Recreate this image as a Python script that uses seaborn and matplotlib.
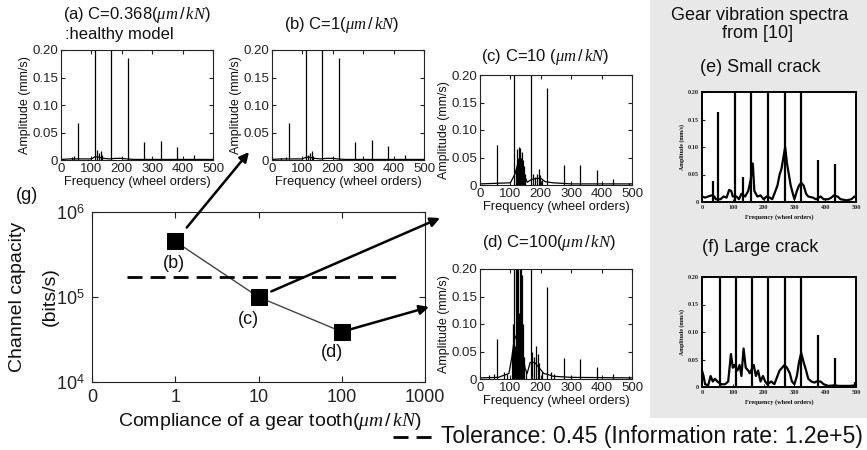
import matplotlib
matplotlib.use("Agg")
import matplotlib.pyplot as plt
import seaborn as sns
from matplotlib.lines import Line2D
from matplotlib.patches import Rectangle

# ---------------- data ----------------
# main panel (g)
compliance = [1, 10, 100]
capacity = [4.5e5, 1.0e5, 3.9e4]
point_labels = ["(b)", "(c)", "(d)"]
tol_y = 1.73e5
tol_x = [0.26, 490]
x_ticks = [0.1, 1, 10, 100, 1000]
x_tick_labels = ["0", "1", "10", "100", "1000"]
y_ticks = [1e4, 1e5, 1e6]
y_tick_labels = ["$10^{4}$", "$10^{5}$", "$10^{6}$"]

amp_ticks = [0, 0.05, 0.10, 0.15, 0.20]
amp_tick_labels = ["0", "0.05", "0.10", "0.15", "0.20"]
freq_ticks = [0, 100, 200, 300, 400, 500]
freq_tick_labels = ["0", "100", "200", "300", "400", "500"]

# (a) healthy
a_peak_f = [36, 42, 57, 112, 118, 124, 130, 134, 166, 221, 274, 329, 383, 437]
a_peak_a = [0.006, 0.008, 0.067, 0.30, 0.018, 0.012, 0.016, 0.010, 0.30, 0.185, 0.032, 0.035, 0.023, 0.010]
a_bg_f = [0, 30, 60, 100, 112, 125, 140, 160, 180, 200, 215, 240, 300, 400, 500]
a_bg_a = [0.001, 0.002, 0.002, 0.002, 0.006, 0.005, 0.003, 0.002, 0.003, 0.003, 0.002, 0.001, 0.001, 0.001, 0.001]

# (b) C=1
b_peak_f = [30, 45, 57, 112, 118, 124, 130, 134, 166, 221, 274, 329, 383, 437]
b_peak_a = [0.004, 0.005, 0.068, 0.30, 0.010, 0.012, 0.017, 0.008, 0.30, 0.185, 0.033, 0.036, 0.025, 0.010]
b_bg_f = [0, 30, 60, 100, 112, 125, 140, 160, 180, 200, 215, 240, 300, 400, 500]
b_bg_a = [0.001, 0.002, 0.002, 0.002, 0.005, 0.005, 0.003, 0.002, 0.003, 0.003, 0.002, 0.001, 0.001, 0.001, 0.001]

# (c) C=10
c_peak_f = [57, 112, 118, 121, 124, 127, 130, 133, 136, 139, 142, 145, 148, 167, 175, 180, 186, 193,
            198, 205, 221, 275, 329, 384, 437, 490]
c_peak_a = [0.073, 0.30, 0.03, 0.065, 0.05, 0.07, 0.06, 0.068, 0.05, 0.06, 0.045, 0.035, 0.02, 0.30,
            0.02, 0.015, 0.02, 0.03, 0.018, 0.01, 0.176, 0.036, 0.036, 0.027, 0.011, 0.003]
c_bg_f = [0, 50, 100, 115, 125, 135, 145, 155, 170, 185, 200, 215, 240, 300, 500]
c_bg_a = [0.002, 0.003, 0.004, 0.02, 0.04, 0.035, 0.02, 0.005, 0.01, 0.012, 0.012, 0.006, 0.004, 0.002, 0.002]

# (d) C=100
d_peak_f = [30, 45, 57, 80, 90, 104, 108, 112, 115, 118, 121, 124, 127, 130, 133, 136, 139, 142, 145,
            150, 167, 172, 178, 185, 190, 195, 205, 221, 235, 245, 275, 300, 329, 384, 437, 490]
d_peak_a = [0.008, 0.01, 0.073, 0.012, 0.01, 0.05, 0.10, 0.30, 0.06, 0.30, 0.25, 0.30, 0.12, 0.30,
            0.09, 0.22, 0.19, 0.10, 0.04, 0.015, 0.30, 0.05, 0.04, 0.06, 0.045, 0.03, 0.012, 0.168,
            0.012, 0.01, 0.038, 0.005, 0.036, 0.022, 0.009, 0.005]
d_bg_f = [0, 60, 95, 105, 112, 120, 135, 148, 155, 165, 180, 195, 210, 225, 240, 300, 500]
d_bg_a = [0.002, 0.003, 0.01, 0.04, 0.07, 0.08, 0.07, 0.02, 0.01, 0.03, 0.03, 0.02, 0.01, 0.008,
          0.005, 0.003, 0.002]

# (e) small crack
e_peak_f = [36, 52, 106, 133, 160, 214, 268, 321, 378, 431]
e_peak_a = [0.038, 0.164, 0.30, 0.045, 0.30, 0.30, 0.30, 0.30, 0.077, 0.07]
e_bg_f = [0, 10, 20, 30, 40, 45, 60, 70, 80, 88, 95, 100, 112, 120, 128, 140, 150, 158, 165, 170,
          180, 190, 200, 210, 220, 228, 235, 245, 252, 258, 264, 270, 276, 282, 288, 295, 300, 308,
          315, 322, 330, 338, 345, 360, 370, 385, 395, 410, 420, 428, 440, 450, 470, 485, 495, 500]
e_bg_a = [0.01, 0.008, 0.01, 0.012, 0.01, 0.005, 0.005, 0.01, 0.008, 0.022, 0.02, 0.01, 0.01, 0.005,
          0.015, 0.01, 0.02, 0.04, 0.07, 0.02, 0.01, 0.012, 0.005, 0.01, 0.008, 0.005, 0.015, 0.03,
          0.05, 0.06, 0.08, 0.10, 0.07, 0.05, 0.03, 0.015, 0.005, 0.02, 0.03, 0.035, 0.03, 0.015,
          0.01, 0.008, 0.005, 0.01, 0.005, 0.005, 0.008, 0.012, 0.01, 0.005, 0.003, 0.005, 0.01, 0.008]

# (f) large crack
f_peak_f = [57, 109, 162, 215, 269, 321, 378, 432, 498]
f_peak_a = [0.30, 0.30, 0.30, 0.30, 0.30, 0.30, 0.094, 0.052, 0.01]
f_bg_f = [0, 5, 10, 20, 28, 35, 42, 50, 62, 75, 85, 94, 100, 105, 115, 122, 128, 135, 142, 150, 155,
          168, 175, 182, 190, 198, 205, 212, 225, 235, 245, 252, 260, 268, 276, 285, 292, 300, 308,
          315, 322, 330, 338, 345, 355, 365, 372, 385, 395, 410, 430, 445, 480, 500]
f_bg_a = [0.03, 0.02, 0.005, 0.003, 0.02, 0.01, 0.015, 0.01, 0.005, 0.005, 0.01, 0.06, 0.035, 0.04,
          0.03, 0.04, 0.02, 0.07, 0.035, 0.03, 0.025, 0.04, 0.02, 0.03, 0.01, 0.02, 0.01, 0.005, 0.01,
          0.005, 0.02, 0.03, 0.035, 0.04, 0.035, 0.025, 0.01, 0.005, 0.02, 0.045, 0.062, 0.045, 0.03,
          0.015, 0.01, 0.008, 0.01, 0.01, 0.005, 0.002, 0.003, 0.002, 0.002, 0.003]

# ---------------- style ----------------
sns.set_style("ticks")
plt.rcParams.update({
    "font.family": ["Liberation Sans", "DejaVu Sans"],
    "mathtext.fontset": "custom",
    "mathtext.rm": "Liberation Sans",
    "mathtext.it": "Liberation Serif:italic",
    "mathtext.bf": "Liberation Sans:bold",
    "xtick.direction": "in",
    "ytick.direction": "in",
    "axes.edgecolor": "#222222",
    "axes.linewidth": 0.8,
    "xtick.color": "#222222",
    "ytick.color": "#222222",
    "text.color": "#111111",
    "axes.labelcolor": "#111111",
})

W, H = 867, 450
fig = plt.figure(figsize=(W / 100, H / 100), dpi=100)
fig.patch.set_facecolor("white")


def box(x0, y0, x1, y1):
    return [x0 / W, 1 - y1 / H, (x1 - x0) / W, (y1 - y0) / H]


def ftext(x, y, s, **kw):
    fig.text(x / W, 1 - y / H, s, **kw)


# gray scanned background for (e),(f)
fig.patches.append(Rectangle((650 / W, 1 - 418 / H), (W - 650) / W, 418 / H,
                             transform=fig.transFigure, facecolor="#e8e8e8",
                             edgecolor="none", zorder=-5))


def spectrum(rect, pf, pa, bf, ba, model=True):
    ax = fig.add_axes(box(*rect))
    ax.set_facecolor("white")
    lw = 0.9 if model else 1.6
    sns.lineplot(x=bf, y=ba, ax=ax, color="black", lw=lw, estimator=None)
    ax.vlines(pf, 0, pa, color="black", lw=lw)
    ax.set_xlim(0, 500)
    ax.set_ylim(0, 0.2)
    ax.set_xticks(freq_ticks, freq_tick_labels)
    ax.set_yticks(amp_ticks, amp_tick_labels)
    if model:
        ax.tick_params(top=True, right=True, length=3, labelsize=9.5, pad=2)
        ax.set_ylabel("Amplitude (mm/s)", fontsize=9, labelpad=1)
        ax.set_xlabel("Frequency (wheel orders)", fontsize=9.3, labelpad=1)
    else:
        for s in ax.spines.values():
            s.set_linewidth(1.4)
            s.set_color("black")
        ax.tick_params(length=2.5, labelsize=4.5, pad=2)
        for lab in ax.get_xticklabels() + ax.get_yticklabels():
            lab.set_family("Liberation Serif")
            lab.set_weight("bold")
        ax.set_ylabel("Amplitude (mm/s)", fontsize=4.2, family="Liberation Serif",
                      weight="bold", labelpad=2)
        ax.set_xlabel("Frequency (wheel orders)", fontsize=4.5, family="Liberation Serif",
                      weight="bold", labelpad=3)
    return ax


spectrum((61, 50, 213, 160), a_peak_f, a_peak_a, a_bg_f, a_bg_a)
spectrum((272, 50, 424, 160), b_peak_f, b_peak_a, b_bg_f, b_bg_a)
spectrum((480, 75, 632, 185), c_peak_f, c_peak_a, c_bg_f, c_bg_a)
spectrum((480, 269, 632, 379), d_peak_f, d_peak_a, d_bg_f, d_bg_a)
spectrum((702, 92, 856, 202), e_peak_f, e_peak_a, e_bg_f, e_bg_a, model=False)
spectrum((702, 277, 856, 387), f_peak_f, f_peak_a, f_bg_f, f_bg_a, model=False)

unit = r"($\mu m\,/\,kN$)"
ftext(63, 15, "(a) C=0.368" + unit, fontsize=12, ha="left", va="center")
ftext(65, 34, ":healthy model", fontsize=12, ha="left", va="center")
ftext(342, 25, "(b) C=1" + unit, fontsize=12, ha="center", va="center")
ftext(545, 57, "(c) C=10 " + unit, fontsize=12, ha="center", va="center")
ftext(549, 243, "(d) C=100" + unit, fontsize=12, ha="center", va="center")
ftext(760, 15, "Gear vibration spectra", fontsize=13, ha="center", va="center")
ftext(758, 34, "from [10]", fontsize=13, ha="center", va="center")
ftext(760, 68, "(e) Small crack", fontsize=13, ha="center", va="center")
ftext(760, 248, "(f) Large crack", fontsize=13, ha="center", va="center")

# ---------------- main panel (g) ----------------
ax = fig.add_axes(box(92, 212, 425, 382))
ax.set_xscale("log")
ax.set_yscale("log")
sns.lineplot(x=compliance, y=capacity, ax=ax, color="#444444", lw=1.0, marker="s",
             markersize=11, markerfacecolor="black", markeredgecolor="black")
ax.plot(tol_x, [tol_y, tol_y], color="black", lw=2, linestyle=(0, (5.4, 2.9)))
ax.set_xlim(0.1, 1000)
ax.set_ylim(1e4, 1e6)
ax.set_xticks(x_ticks, x_tick_labels)
ax.set_yticks(y_ticks, y_tick_labels)
ax.minorticks_off()
ax.tick_params(top=True, right=True, length=4, labelsize=13, pad=5)
ax.set_xlabel("")
ax.set_ylabel("")

label_offsets = [(-1, -22), (-10, -23), (-10, -21)]
for x, y, lab, (dx, dy) in zip(compliance, capacity, point_labels, label_offsets):
    ax.annotate(lab, (x, y), xytext=(dx, dy), textcoords="offset pixels",
                fontsize=13, ha="center", va="center")

# arrows from points to spectra panels (tips in figure pixels, origin bottom-left)
arrow_tips = [(249, H - 152), (440, H - 218), (429, H - 307)]
arrow_shrink = [13, 10, 6]
for x, y, tip, sh in zip(compliance, capacity, arrow_tips, arrow_shrink):
    ax.annotate("", xy=tip, xycoords="figure pixels", xytext=(x, y), textcoords="data",
                annotation_clip=False,
                arrowprops=dict(arrowstyle="-|>", color="black", lw=1.8,
                                mutation_scale=14, shrinkA=sh, shrinkB=0))

ftext(27, 195, "(g)", fontsize=13, ha="center", va="center")
ftext(18, 297, "Channel capacity", fontsize=14, rotation=90, ha="center", va="center")
ftext(50, 297, "(bits/s)", fontsize=14, rotation=90, ha="center", va="center")
ftext(270, 422, "Compliance of a gear tooth" + unit, fontsize=14, ha="center", va="center")

# tolerance legend at bottom
fig.add_artist(Line2D([393 / W, 437 / W], [1 - 437 / H, 1 - 437 / H], transform=fig.transFigure,
                      color="black", lw=2, linestyle=(0, (5.4, 2.9))))
ftext(441, 436, "Tolerance: 0.45 (Information rate: 1.2e+5)", fontsize=16.5, ha="left", va="center")

fig.savefig("out.png", dpi=100)
